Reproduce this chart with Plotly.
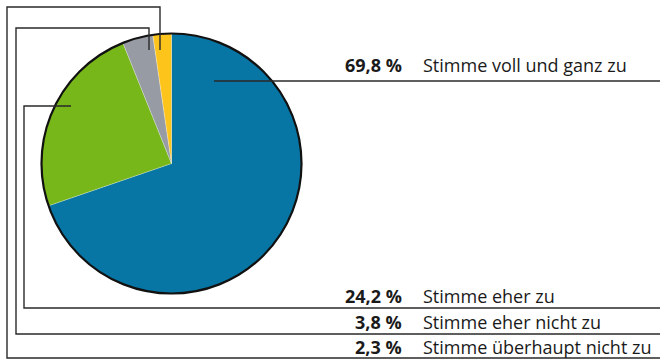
import plotly.graph_objects as go

# Survey answers and their shares (percent)
labels = ["Stimme voll und ganz zu", "Stimme eher zu", "Stimme eher nicht zu", "Stimme überhaupt nicht zu"]
values = [69.8, 24.2, 3.8, 2.3]
colors = ["#0876a4", "#77b71a", "#979ba4", "#fdc41c"]

W, H = 660, 359

def px(x):
    return x / W

def py(y):
    return 1 - y / H

# pie geometry in pixels
cx, cy, r = 171.5, 163.5, 130

fig = go.Figure(go.Pie(
    labels=labels,
    values=values,
    sort=False,
    direction="clockwise",
    rotation=0,
    marker=dict(colors=colors, line=dict(color="rgba(255,255,255,0.5)", width=0.5)),
    textinfo="none",
    hoverinfo="label+percent",
    showlegend=False,
    domain=dict(x=[px(cx - r), px(cx + r)], y=[py(cy + r), py(cy - r)]),
))

shapes = []
# outline of the pie
shapes.append(dict(type="circle", xref="paper", yref="paper",
                   x0=px(cx - r), x1=px(cx + r), y0=py(cy + r), y1=py(cy - r),
                   line=dict(color="#111111", width=2.2)))

# leader lines: polyline points (pixels) for each answer
leaders = [
    [(214, 81), (660, 81)],
    [(71, 106), (24, 106), (24, 308), (660, 308)],
    [(149, 50), (149, 28), (16, 28), (16, 334), (660, 334)],
    [(160, 50), (160, 7), (7, 7), (7, 358), (660, 358)],
]
line_style = dict(color="#2a2a2a", width=1.4)
for pts in leaders:
    path = "M " + " L ".join(f"{px(x)},{py(y)}" for x, y in pts)
    shapes.append(dict(type="path", xref="paper", yref="paper", path=path,
                       line=line_style, layer="above"))

# label rows (text centre y, pixels)
label_y = [65, 296, 322, 347]
annotations = []
for lab, val, y in zip(labels, values, label_y):
    pct = f"{val:.1f}".replace(".", ",") + " %"
    annotations.append(dict(xref="paper", yref="paper", x=px(404), y=py(y),
                            xanchor="right", yanchor="middle", showarrow=False,
                            text=f"<b>{pct}</b>",
                            font=dict(family="Open Sans", size=18, color="#1a1a1a")))
    annotations.append(dict(xref="paper", yref="paper", x=px(421), y=py(y),
                            xanchor="left", yanchor="middle", showarrow=False,
                            text=lab,
                            font=dict(family="Open Sans", size=18, color="#1a1a1a")))

fig.update_layout(
    width=W, height=H,
    margin=dict(l=0, r=0, t=0, b=0),
    paper_bgcolor="white",
    plot_bgcolor="white",
    shapes=shapes,
    annotations=annotations,
)

fig.write_html("out.html")
